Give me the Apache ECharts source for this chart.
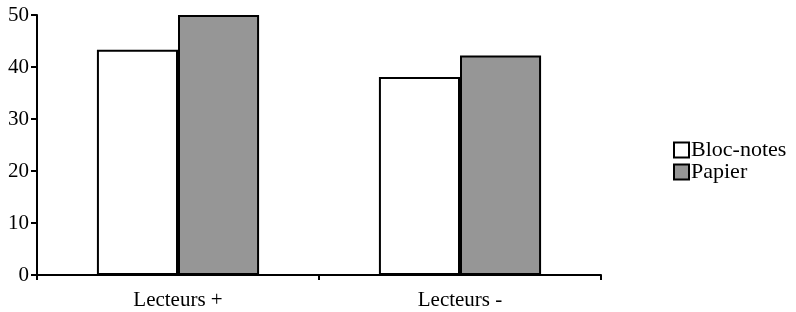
<!DOCTYPE html>
<html>
<head>
<meta charset="utf-8">
<script src="https://cdn.jsdelivr.net/npm/echarts@6/dist/echarts.min.js"></script>
<style>
    html, body { margin: 0; padding: 0; background: #fff; }
    #chart { width: 796px; height: 312px; }
</style>
</head>
<body>
<div id="chart"></div>
<script>
    // categories and values
    var categories = ['Lecteurs +', 'Lecteurs -'];
    var blocNotes = [43.3, 38.1];
    var papier = [50, 42.2];
    var yTicks = [0, 10, 20, 30, 40, 50];

    var font = 'Liberation Serif';
    var chart = echarts.init(document.getElementById('chart'));

    var option = {
        animation: false,
        backgroundColor: '#fff',
        grid: {
            left: 37,
            top: 15,
            right: 195,
            bottom: 37
        },
        legend: {
            orient: 'vertical',
            left: 668,
            top: 134,
            itemWidth: 15,
            itemHeight: 15,
            itemGap: 0,
            icon: 'rect',
            textStyle: {
                color: '#000',
                fontFamily: font,
                fontSize: 22,
                lineHeight: 22,
                padding: [0, 0, 0, -3]
            },
            selectedMode: false
        },
        xAxis: {
            type: 'category',
            data: categories,
            axisLine: {
                lineStyle: { color: '#000', width: 2 }
            },
            axisTick: {
                show: true,
                length: 5,
                lineStyle: { color: '#000', width: 2 }
            },
            axisLabel: {
                color: '#000',
                fontFamily: font,
                fontSize: 21,
                margin: 15
            }
        },
        yAxis: {
            type: 'value',
            min: yTicks[0],
            max: yTicks[yTicks.length - 1],
            interval: 10,
            axisLine: {
                show: true,
                lineStyle: { color: '#000', width: 2 }
            },
            axisTick: {
                show: true,
                length: 6,
                lineStyle: { color: '#000', width: 2 }
            },
            splitLine: { show: false },
            axisLabel: {
                color: '#000',
                fontFamily: font,
                fontSize: 21,
                margin: 8
            }
        },
        series: [
            {
                name: 'Bloc-notes',
                type: 'bar',
                data: blocNotes,
                barGap: '0%',
                barCategoryGap: '42.5%',
                itemStyle: {
                    color: '#ffffff',
                    borderColor: '#000',
                    borderWidth: 2
                }
            },
            {
                name: 'Papier',
                type: 'bar',
                data: papier,
                itemStyle: {
                    color: '#969696',
                    borderColor: '#000',
                    borderWidth: 2
                }
            }
        ]
    };

    chart.setOption(option);
</script>
</body>
</html>
